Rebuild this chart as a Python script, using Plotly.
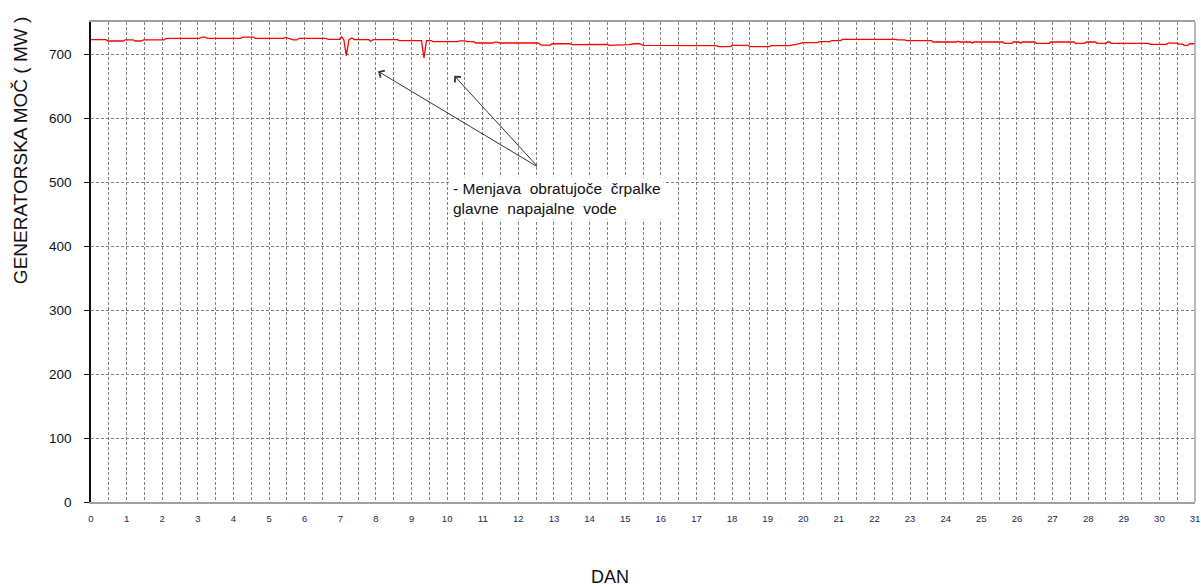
import plotly.graph_objects as go

days = [0, 0.42, 0.48, 0.9, 0.96, 1.18, 1.24, 1.4, 1.48, 2.05, 2.12, 3.05, 3.12, 3.2, 3.26,
        4.2, 4.26, 4.55, 4.62, 5.4, 5.47, 5.55, 5.68, 5.78, 5.84, 6.6, 6.66, 6.98, 7.04, 7.1,
        7.17, 7.24, 7.32, 7.4, 7.8, 7.85, 7.93, 8.6, 8.66, 9.28, 9.35, 9.42, 9.55, 9.6, 10.3,
        10.36, 10.5, 10.56, 10.75, 10.8, 11.0, 11.05, 11.13, 11.18, 11.28, 11.33, 11.42, 11.47,
        12.55, 12.65, 12.9, 12.95, 13.45, 13.5, 13.7, 13.75, 14.3, 14.35, 14.5, 14.55, 15.05,
        15.1, 15.25, 15.4, 15.5, 17.05, 17.1, 17.55, 17.62, 17.95, 18.0, 18.45, 18.5, 19.05,
        19.1, 19.6, 19.8, 20.0, 20.4, 20.45, 20.75, 20.8, 21.05, 21.1, 22.6, 22.65, 22.85, 22.9,
        23.0, 23.6, 23.65, 24.3, 24.35, 24.4, 24.7, 24.75, 24.8, 25.6, 25.65, 25.85, 25.9,
        26.05, 26.1, 26.15, 26.5, 26.55, 26.9, 26.95, 27.6, 27.65, 27.9, 27.95, 28.2, 28.25,
        28.5, 28.55, 28.6, 28.65, 29.7, 29.75, 30.2, 30.25, 30.5, 30.55, 30.65, 30.7, 30.8,
        30.85, 31.0]
power = [722.4, 722.4, 720.3, 720.3, 722.2, 722.2, 720.3, 720.3, 722.2, 722.2, 724.5, 724.5, 726.5, 726.5, 724.5,
         724.5, 726.5, 726.5, 724.5, 724.5, 726, 724, 722, 722, 724.5, 724.5, 723, 723, 727, 722,
         697.5, 722, 725, 722.4, 722.4, 720, 722.4, 722.4, 721, 721, 693.7, 721, 721, 719.3, 719.3,
         720.5, 720.5, 719.3, 719.3, 717.2, 717.2, 718.2, 718.2, 717.2, 717.2, 718.5, 718.5, 717.2,
         717.2, 714, 714, 716, 716, 714.8, 714.8, 714, 714, 715, 715, 713.5, 713.5,
         714.6, 716, 716, 713.5, 713.5, 713, 713, 711.4, 711.4, 713.5, 713.5, 711.4, 711.4,
         713, 713, 715, 717.7, 717.7, 719.3, 719.3, 721, 721, 722.9, 722.9, 722, 722, 721,
         720.8, 720.8, 718.75, 718.75, 720, 718.75, 718.75, 717, 718.75, 718.75, 716.6, 716.6, 718.75,
         718.75, 717, 718.75, 718.75, 716.6, 716.6, 718.75, 718.75, 716.6, 716.6, 718.75, 718.75, 716.6,
         716.6, 718.75, 718.75, 716.6, 716.6, 715, 715, 717, 717, 715.5, 715.5, 713.5, 713.5,
         716, 716]

x_ticks = list(range(0, 32))
y_ticks = [0, 100, 200, 300, 400, 500, 600, 700]

x_title = "DAN"
y_title = "GENERATORSKA MOČ ( MW )"
note_text = ("- Menjava&nbsp; obratujoče&nbsp; črpalke<br>"
             "glavne&nbsp; napajalne&nbsp; vode")
note_pos = (10.07, 508)
arrow_tail = (12.56, 523)
arrow_heads = [(8.06, 673), (10.2, 666)]

FONT = "Liberation Sans, Arial, sans-serif"
GRID = "#808080"
DASH = "3px,2px"

fig = go.Figure()
fig.add_trace(go.Scatter(x=days, y=power, mode="lines",
                         line=dict(color="#ff0000", width=1.3),
                         showlegend=False, hoverinfo="skip"))

for hx, hy in arrow_heads:
    fig.add_annotation(x=hx, y=hy, ax=arrow_tail[0], ay=arrow_tail[1],
                       xref="x", yref="y", axref="x", ayref="y",
                       text="", showarrow=True, arrowhead=4, arrowsize=1.6,
                       arrowwidth=1, arrowcolor="#333333")

fig.add_annotation(x=note_pos[0], y=note_pos[1], xref="x", yref="y",
                   text=note_text, showarrow=False, xanchor="left", yanchor="top",
                   align="left", bgcolor="white", borderpad=2,
                   font=dict(family=FONT, size=15.5, color="#111111"))

# axis titles (placed like the reference, not centred on the plot)
fig.add_annotation(x=-0.0643, y=0.731, xref="paper", yref="paper", text=y_title,
                   textangle=-90, showarrow=False, xanchor="center", yanchor="middle",
                   font=dict(family=FONT, size=19, color="#111111"))
fig.add_annotation(x=0.470, y=-0.156, xref="paper", yref="paper", text=x_title,
                   showarrow=False, xanchor="center", yanchor="middle",
                   font=dict(family=FONT, size=18, color="#111111"))

fig.add_shape(type="line", xref="paper", yref="paper", x0=1, x1=1, y0=0, y1=1,
              line=dict(color="#a0a0a0", width=1.5))

fig.update_layout(
    width=1201, height=587,
    margin=dict(l=91, r=6, t=22, b=85),
    paper_bgcolor="white", plot_bgcolor="white",
    font=dict(family=FONT, color="#222222"),
    xaxis=dict(range=[0, 31], tickmode="array", tickvals=x_ticks,
               ticktext=[str(v) for v in x_ticks],
               tickfont=dict(size=9.5, color="#222a44"),
               ticks="", ticklabelstandoff=7, ticklabeloverflow="allow",
               showgrid=True, gridcolor=GRID, griddash=DASH, gridwidth=1,
               minor=dict(dtick=0.5, tick0=0, showgrid=True, gridcolor=GRID,
                          griddash=DASH, gridwidth=1),
               showline=True, linecolor="#a0a0a0", linewidth=1.5, mirror=True,
               zeroline=False, automargin=False),
    yaxis=dict(range=[0, 750], tickmode="array", tickvals=y_ticks,
               tickfont=dict(size=13.5, color="#111111"),
               ticks="outside", ticklen=5, tickcolor="#111111", ticklabelstandoff=10,
               showgrid=True, gridcolor=GRID, griddash=DASH, gridwidth=1,
               showline=True, linecolor="#111111", linewidth=1.5, mirror=False,
               zeroline=False, automargin=False),
)

fig.write_html("out.html", config={"displayModeBar": False},
               post_script="document.body.style.margin='0';document.body.style.overflow='hidden';")
